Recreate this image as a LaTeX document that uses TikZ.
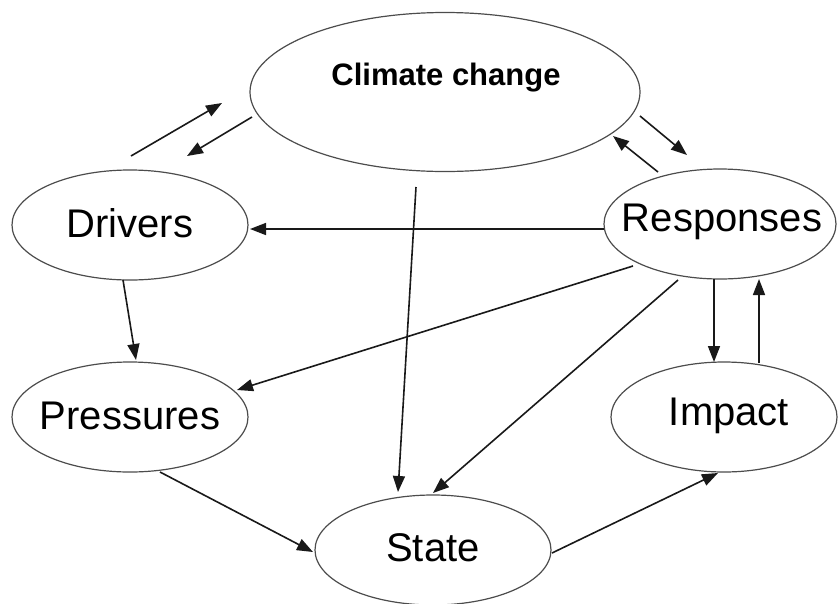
\documentclass[tikz,border=0pt]{standalone}
\usepackage{fontspec}
\setmainfont{Liberation Sans}
\usetikzlibrary{shapes.geometric,arrows.meta,calc}
\begin{document}
\begin{tikzpicture}[x=1pt,y=-1pt,
  ell/.style={draw=black!70,line width=1.2pt,ellipse,inner sep=0pt},
  lbl/.style={font=\fontsize{40}{46}\selectfont,text=black,inner sep=0pt},
  arr/.style={line width=1.6pt,draw=black!90,-{Triangle[length=16pt,width=12pt]}}]
\useasboundingbox (0,0) rectangle (838,603);
\node[ell,minimum width=390,minimum height=159] (climate) at (445,92) {};
\node[font=\fontsize{31}{36}\selectfont\bfseries,inner sep=0pt] (climatetext) at (446,78) {Climate change};
\node[ell,minimum width=236,minimum height=110] (drivers) at (130,225) {};
\node[lbl] at ($(drivers)+(0,-2)$) {Drivers};
\node[ell,minimum width=232,minimum height=110] (responses) at (720,224) {};
\node[lbl] at ($(responses)+(2,-2)$) {Responses};
\node[ell,minimum width=236,minimum height=110] (pressures) at (130,417) {};
\node[lbl] at ($(pressures)+(0,-1)$) {Pressures};
\node[ell,minimum width=226,minimum height=110] (impact) at (724,417) {};
\node[lbl] at ($(impact)+(5,-1)$) {Impact};
\node[ell,minimum width=236,minimum height=110] (state) at (433,550) {};
\node[lbl] at ($(state)+(0,-2)$) {State};
% connectors
\draw[arr] ($(drivers)+(1,-69)$) -- ($(climate)+(-223,11)$);
\draw[arr] ($(climate)+(-193,25)$) -- ($(drivers)+(57,-69)$);
\draw[arr] ($(climate)+(195,24)$) -- ($(responses)+(-33,-69)$);
\draw[arr] ($(responses)+(-62,-52)$) -- ($(climate)+(168,44)$);
\draw[arr] ($(responses)+(-116,5)$) -- ($(drivers)+(120,4)$);
\draw[arr] ($(climate)+(-29,95)$) -- ($(state)+(-35,-58)$);
\draw[arr] ($(drivers)+(-7,55)$) -- ($(pressures)+(6,-57)$);
\draw[arr] ($(responses)+(-87,42)$) -- ($(pressures)+(107,-27)$);
\draw[arr] ($(responses)+(-42,56)$) -- ($(state)+(0,-57)$);
\draw[arr] ($(responses)+(-6,55)$) -- ($(impact)+(-10,-55)$);
\draw[arr] ($(impact)+(35,-54)$) -- ($(responses)+(39,55)$);
\draw[arr] ($(pressures)+(30,55)$) -- ($(state)+(-120,2)$);
\draw[arr] ($(state)+(119,3)$) -- ($(impact)+(-6,56)$);
\end{tikzpicture}
\end{document}
